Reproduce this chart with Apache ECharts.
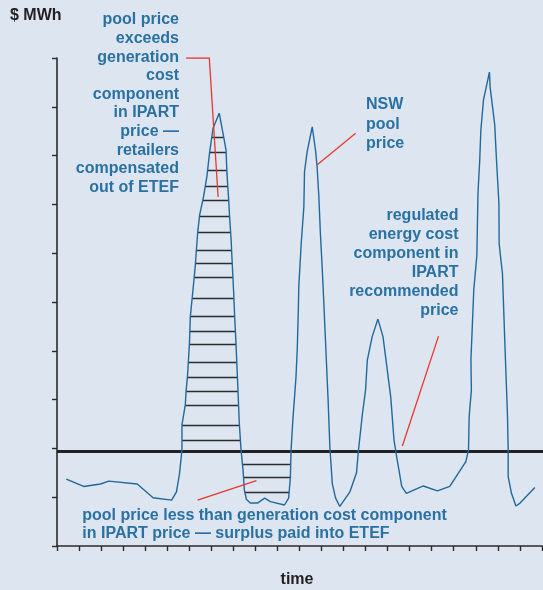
<!DOCTYPE html>
<html><head><meta charset="utf-8">
<script src="https://cdn.jsdelivr.net/npm/echarts@6/dist/echarts.min.js"></script>
<style>html,body{margin:0;padding:0;background:#dde5f0}#c{width:543px;height:590px}</style>
</head><body><div id="c"></div>
<script>
// time (arbitrary units, one tick = 1)
const timePoints = [0.42,1.21,1.97,2.35,3.64,4.36,5.20,5.42,5.56,5.67,5.67,5.82,5.86,5.92,6.01,6.05,6.17,6.27,6.38,6.47,6.65,6.80,6.92,7.08,7.36,7.53,7.67,7.71,7.79,7.83,7.90,7.95,8.01,8.06,8.12,8.21,8.27,8.35,8.44,8.50,8.59,8.77,9.10,9.42,9.68,10.32,10.51,10.59,10.62,10.70,10.84,10.90,10.95,10.97,11.08,11.20,11.23,11.35,11.58,11.73,11.80,11.88,11.95,12.03,12.11,12.18,12.30,12.38,12.49,12.64,12.83,13.29,13.59,13.67,13.85,14.00,14.08,14.30,14.56,14.79,15.14,15.29,15.41,15.64,15.85,16.62,17.26,17.82,18.55,18.67,18.70,18.80,18.78,18.91,19.05,19.10,19.18,19.23,19.35,19.62,19.65,19.86,19.94,20.05,20.06,20.14,20.21,20.33,20.44,20.47,20.47,20.62,20.82,21.01,21.68];
// NSW pool price ($/MWh, axis units)
const poolPrice = [1.37,1.22,1.27,1.33,1.27,0.99,0.94,1.11,1.49,1.97,2.48,2.89,3.20,3.47,4.16,4.70,5.25,5.72,6.41,6.78,7.16,7.57,8.05,8.56,8.87,8.46,8.11,7.64,7.09,6.75,6.27,5.79,5.25,4.70,4.16,3.20,2.52,1.97,1.56,1.15,0.96,0.88,0.88,0.98,0.91,0.84,0.98,1.42,1.97,2.58,3.44,4.02,4.84,5.31,6.20,6.95,7.67,8.08,8.59,8.11,7.77,7.16,6.41,5.72,4.94,4.22,2.99,2.03,1.28,0.98,0.81,1.11,1.50,1.93,2.68,3.20,3.81,4.29,4.65,4.29,3.06,2.17,1.83,1.22,1.08,1.23,1.13,1.22,1.73,1.97,2.65,3.20,3.81,5.25,5.96,7.23,7.91,8.52,9.14,9.71,9.41,8.63,7.91,7.02,6.20,5.86,5.59,4.02,2.65,1.97,1.42,1.08,0.82,0.88,1.20];
// regulated energy cost component in IPART recommended price
const ipartPrice = 1.95;
const xTickMax = 22.05;
// hatch levels: pool price above IPART (peak) and below (trough)
const compensatedLevels = [8.37,8.06,7.70,7.38,7.09,6.76,6.42,6.07,5.79,5.50,5.08,4.70,4.41,4.13,3.76,3.45,3.18,2.88,2.48,2.16];
const compensatedRange = [5.3, 8.7];
const surplusLevels = [1.68,1.40,1.11];
const surplusRange = [8.3, 10.8];
// annotation leader lines (data coordinates)
const leaderLines = [
  [[5.86,10.0],[6.91,10.0],[7.31,7.15]],
  [[13.55,8.46],[11.81,7.81]],
  [[17.31,4.30],[15.67,2.05]],
  [[6.38,0.94],[9.05,1.34]]
];
const labels = {
  yUnit: '$ MWh',
  xName: 'time',
  peakNote: 'pool price\nexceeds\ngeneration\ncost\ncomponent\nin IPART\nprice —\nretailers\ncompensated\nout of ETEF',
  poolNote: 'NSW\npool\nprice',
  ipartNote: 'regulated\nenergy cost\ncomponent in\nIPART\nrecommended\nprice',
  troughNote: 'pool price less than generation cost component\nin IPART price — surplus paid into ETEF'
};

function crossings(level, range){
  const xs = [];
  for (let i = 0; i < timePoints.length - 1; i++) {
    const x1 = timePoints[i], x2 = timePoints[i+1], y1 = poolPrice[i], y2 = poolPrice[i+1];
    if ((y1 - level) * (y2 - level) <= 0 && y1 !== y2) {
      const x = x1 + (level - y1) / (y2 - y1) * (x2 - x1);
      if (x >= range[0] && x <= range[1]) xs.push(x);
    }
  }
  return [Math.min.apply(null, xs), Math.max.apply(null, xs)];
}
const hatch = [];
compensatedLevels.forEach(l => { const c = crossings(l, compensatedRange); hatch.push({coords: [[c[0], l], [c[1], l]]}); });
surplusLevels.forEach(l => { const c = crossings(l, surplusRange); hatch.push({coords: [[c[0], l], [c[1], l]]}); });

const BLUE_TXT = '#2a71a3';
const FONT = 'bold 16px "Liberation Sans", Arial, sans-serif';
const chart = echarts.init(document.getElementById('c'));
chart.setOption({
  backgroundColor: '#dde5f0',
  animation: false,
  grid: {left: 57, right: 0, top: 58, bottom: 44},
  xAxis: {type: 'value', min: 0, max: xTickMax, interval: 1,
    axisLine: {show: true, lineStyle: {color: '#2b2b2b', width: 1.6}},
    axisTick: {show: true, length: 5, lineStyle: {color: '#2b2b2b', width: 1.4}},
    axisLabel: {show: false}, splitLine: {show: false}},
  yAxis: {type: 'value', min: 0, max: 10, interval: 1,
    axisLine: {show: true, lineStyle: {color: '#2b2b2b', width: 1.6}},
    axisTick: {show: true, length: 5, lineStyle: {color: '#2b2b2b', width: 1.4}},
    axisLabel: {show: false}, splitLine: {show: false}},
  series: [
    {type: 'lines', coordinateSystem: 'cartesian2d', polyline: false, silent: true,
      lineStyle: {color: '#2e2e2e', width: 1.4, opacity: 1}, data: hatch, z: 2},
    {type: 'lines', coordinateSystem: 'cartesian2d', silent: true,
      lineStyle: {color: '#222222', width: 3, opacity: 1},
      data: [{coords: [[0, ipartPrice], [xTickMax, ipartPrice]]}], z: 3},
    {type: 'line', data: timePoints.map((t, i) => [t, poolPrice[i]]), showSymbol: false,
      lineStyle: {color: '#21689b', width: 1.4}, z: 4},
    {type: 'lines', coordinateSystem: 'cartesian2d', polyline: true, silent: true,
      lineStyle: {color: '#e8372c', width: 1.3, opacity: 1},
      data: leaderLines.map(c => ({coords: c})), z: 5}
  ],
  graphic: [
    {type: 'text', left: 10, top: 8, style: {text: labels.yUnit, font: 'bold 16px "Liberation Sans", Arial, sans-serif', fill: '#231f20'}},
    {type: 'text', x: 179, y: 10.7, style: {text: labels.peakNote, font: FONT, fill: BLUE_TXT, textAlign: 'right', textVerticalAlign: 'top', lineHeight: 18.6}},
    {type: 'text', x: 366, y: 95.3, style: {text: labels.poolNote, font: FONT, fill: BLUE_TXT, textAlign: 'left', textVerticalAlign: 'top', lineHeight: 19.5}},
    {type: 'text', x: 458.5, y: 206.2, style: {text: labels.ipartNote, font: FONT, fill: BLUE_TXT, textAlign: 'right', textVerticalAlign: 'top', lineHeight: 18.9}},
    {type: 'text', x: 82.3, y: 507.3, style: {text: labels.troughNote, font: FONT, fill: BLUE_TXT, textAlign: 'left', textVerticalAlign: 'top', lineHeight: 17.3}},
    {type: 'text', x: 297, y: 580, style: {text: labels.xName, font: 'bold 16px "Liberation Sans", Arial, sans-serif', fill: '#231f20', textAlign: 'center', textVerticalAlign: 'middle'}}
  ]
});
</script>
</body></html>
